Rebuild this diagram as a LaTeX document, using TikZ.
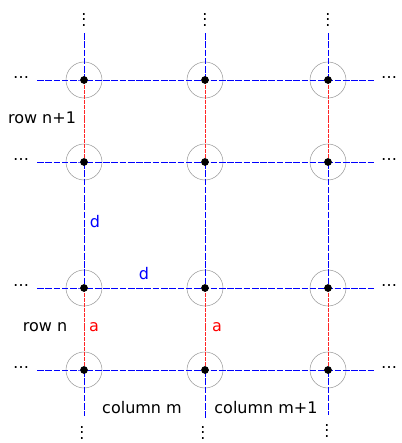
\documentclass[tikz,border=0pt]{standalone}
\usepackage{fontspec}
\setmainfont{DejaVu Sans}
\usepackage{tikz}
\usetikzlibrary{positioning,calc}
\definecolor{LinkBlue}{HTML}{0000FF}
\definecolor{LinkRed}{HTML}{FF0000}
\definecolor{RingGray}{HTML}{9A9A9A}

\begin{document}
\begin{tikzpicture}[
  x=0.75pt, y=-0.75pt,
  site/.style={draw=RingGray, thin, circle, minimum size=27pt, inner sep=0pt},
  hop/.style={LinkBlue, line width=0.65pt, dash pattern=on 5pt off 1.2pt},
  bond/.style={LinkRed!85, line width=0.65pt, dash pattern=on 3pt off 0.7pt},
  atom/.style={fill=black, circle, minimum size=5.8pt, inner sep=0pt},
  tag/.style={font=\fontsize{12}{14}\selectfont, color=black},
  dots/.style={font=\fontsize{12}{14}\selectfont, inner sep=0pt}
]
  \useasboundingbox (0,0) rectangle (401,443);

  % Sites (three columns, four rows top to bottom)
  \node[site] (s11) at (84,80)  {};
  \node[site] (s21) at (205,80) {};
  \node[site] (s31) at (328,80) {};
  \node[site] (s12) at (84,162)  {};
  \node[site] (s22) at (205,162) {};
  \node[site] (s32) at (328,162) {};
  \node[site] (s13) at (84,288)  {};
  \node[site] (s23) at (205,288) {};
  \node[site] (s33) at (328,288) {};
  \node[site] (s14) at (84,370)  {};
  \node[site] (s24) at (205,370) {};
  \node[site] (s34) at (328,370) {};

  % Free ends
  \coordinate (l1) at (37,80);   \coordinate (r1) at (375,80);
  \coordinate (l2) at (37,162);  \coordinate (r2) at (375,162);
  \coordinate (l3) at (37,288);  \coordinate (r3) at (375,288);
  \coordinate (l4) at (37,370);  \coordinate (r4) at (375,370);
  \coordinate (t1) at (84,33);   \coordinate (b1) at (84,416);
  \coordinate (t2) at (205,33);  \coordinate (b2) at (205,418);
  \coordinate (t3) at (328,33);  \coordinate (b3) at (328,415);

  % Rows
  \draw[hop] (l1) -- (s11.center) -- (s21.center) -- (s31.center) -- (r1);
  \draw[hop] (l2) -- (s12.center) -- (s22.center) -- (s32.center) -- (r2);
  \draw[hop] (l3) -- (s13.center) -- (s23.center) -- (s33.center) -- (r3);
  \draw[hop] (l4) -- (s14.center) -- (s24.center) -- (s34.center) -- (r4);

  % Columns
  \draw[hop] (t1) -- (s11.center);
  \draw[hop] (t2) -- (s21.center);
  \draw[hop] (t3) -- (s31.center);
  \draw[hop] (s12.center) -- (s13.center);
  \draw[hop] (s22.center) -- (s23.center);
  \draw[hop] (s32.center) -- (s33.center);
  \draw[hop] (s14.center) -- (b1);
  \draw[hop] (s24.center) -- (b2);
  \draw[hop] (s34.center) -- (b3);

  % Bonds
  \draw[bond] (s11.center) -- (s12.center);
  \draw[bond] (s21.center) -- (s22.center);
  \draw[bond] (s31.center) -- (s32.center);
  \draw[bond] (s13.center) -- (s14.center);
  \draw[bond] (s23.center) -- (s24.center);
  \draw[bond] (s33.center) -- (s34.center);

  % Atoms
  \node[atom] at (s11.center) {};
  \node[atom] at (s21.center) {};
  \node[atom] at (s31.center) {};
  \node[atom] at (s12.center) {};
  \node[atom] at (s22.center) {};
  \node[atom] at (s32.center) {};
  \node[atom] at (s13.center) {};
  \node[atom] at (s23.center) {};
  \node[atom] at (s33.center) {};
  \node[atom] at (s14.center) {};
  \node[atom] at (s24.center) {};
  \node[atom] at (s34.center) {};

  % Continuation dots
  \node[dots] (dl1) at (21,78)  {\dots};
  \node[dots] (dl2) at (21,160) {\dots};
  \node[dots] (dl3) at (21,286) {\dots};
  \node[dots] (dl4) at (21,368) {\dots};
  \node[dots] (dr1) at (389,78)  {\dots};
  \node[dots] (dr2) at (389,160) {\dots};
  \node[dots] (dr3) at (389,286) {\dots};
  \node[dots] (dr4) at (389,368) {\dots};
  \node[dots] (dt1) at (84,16)  {$\vdots$};
  \node[dots] (dt2) at (205,16) {$\vdots$};
  \node[dots] (dt3) at (328,16) {$\vdots$};
  \node[dots] (db1) at (82,429)  {$\vdots$};
  \node[dots] (db2) at (203,429) {$\vdots$};
  \node[dots] (db3) at (327,427) {$\vdots$};

  % Labels
  \node[tag] (rowa) at (42,118) {row n+1};
  \node[tag] (rowb) at (45,327) {row n};
  \node[tag] (cola) at (142,408) {column m};
  \node[tag] (colb) at (266,408) {column m+1};
  \node[tag, color=LinkRed] (aa) at (94,327)  {a};
  \node[tag, color=LinkRed] (ab) at (217,327) {a};
  \node[tag, color=LinkBlue] (da) at (95,222)  {d};
  \node[tag, color=LinkBlue] (db) at (144,274) {d};
\end{tikzpicture}
\end{document}
